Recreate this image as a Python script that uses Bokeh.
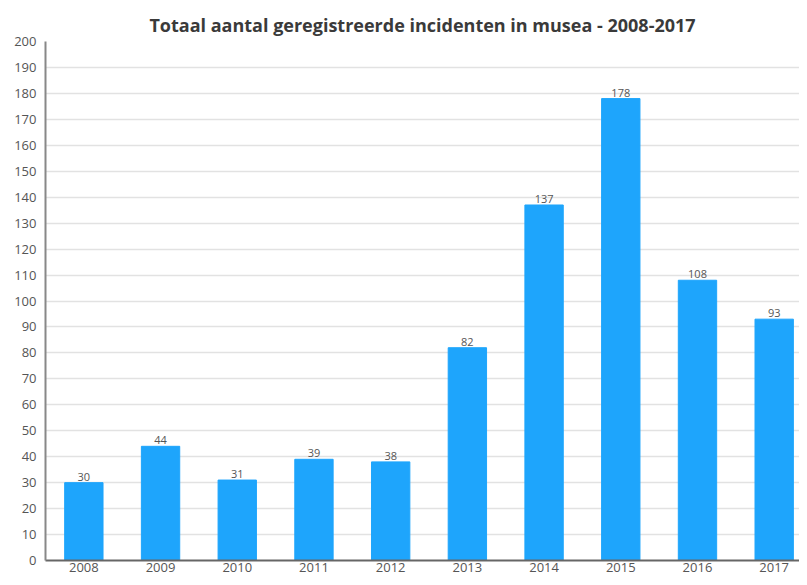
from bokeh.plotting import figure
from bokeh.models import ColumnDataSource, FixedTicker, Range1d, LabelSet
from bokeh.core.properties import value
from bokeh.embed import file_html
from bokeh.resources import INLINE

years = ["2008", "2009", "2010", "2011", "2012", "2013", "2014", "2015", "2016", "2017"]
incidents = [30, 44, 31, 39, 38, 82, 137, 178, 108, 93]
y_ticks = list(range(0, 201, 10))

xs = list(range(len(years)))
src = ColumnDataSource(dict(x=xs, top=incidents, label=[str(v) for v in incidents]))

p = figure(width=799, height=577, output_backend="svg", toolbar_location=None,
           x_range=Range1d(-0.5, 9.33), y_range=Range1d(0, 200),
           min_border_left=45, min_border_right=0, min_border_bottom=17, min_border_top=41,
           title="Totaal aantal geregistreerde incidenten in musea - 2008-2017")
p.title.align = "center"
p.title.text_font = "Open Sans"
p.title.text_font_size = "18px"
p.title.text_font_style = "bold"
p.title.text_color = "#3a3a3a"
p.title.standoff = 9
p.outline_line_color = None

p.vbar(x="x", top="top", width=0.5, source=src, color="#1ea5fc")
labels = LabelSet(x="x", y="top", text="label", source=src, text_align="center",
                  text_baseline="bottom", y_offset=2, text_font_size=value("11px"),
                  text_color=value("#555555"), text_font=value("Open Sans"))
p.add_layout(labels)

p.xaxis.ticker = FixedTicker(ticks=xs)
p.xaxis.major_label_overrides = {i: y for i, y in enumerate(years)}
p.yaxis.ticker = FixedTicker(ticks=y_ticks)
for ax in (p.xaxis, p.yaxis):
    ax.major_label_text_font = "Open Sans"
    ax.major_label_text_font_size = "13px"
    ax.major_label_text_color = "#555555"
    ax.major_tick_line_color = None
    ax.minor_tick_line_color = None
    ax.major_tick_out = 0
    ax.major_tick_in = 0
    ax.minor_tick_out = 0
p.xaxis.axis_line_color = "#666666"
p.xaxis.axis_line_width = 2
p.yaxis.axis_line_color = "#888888"
p.yaxis.axis_line_width = 2
p.yaxis.major_label_standoff = 9
p.xaxis.major_label_standoff = 2
p.xgrid.grid_line_color = None
p.ygrid.grid_line_color = "#e2e2e2"
p.ygrid.grid_line_width = 1.5

open("out.html", "w").write(file_html(p, INLINE))
